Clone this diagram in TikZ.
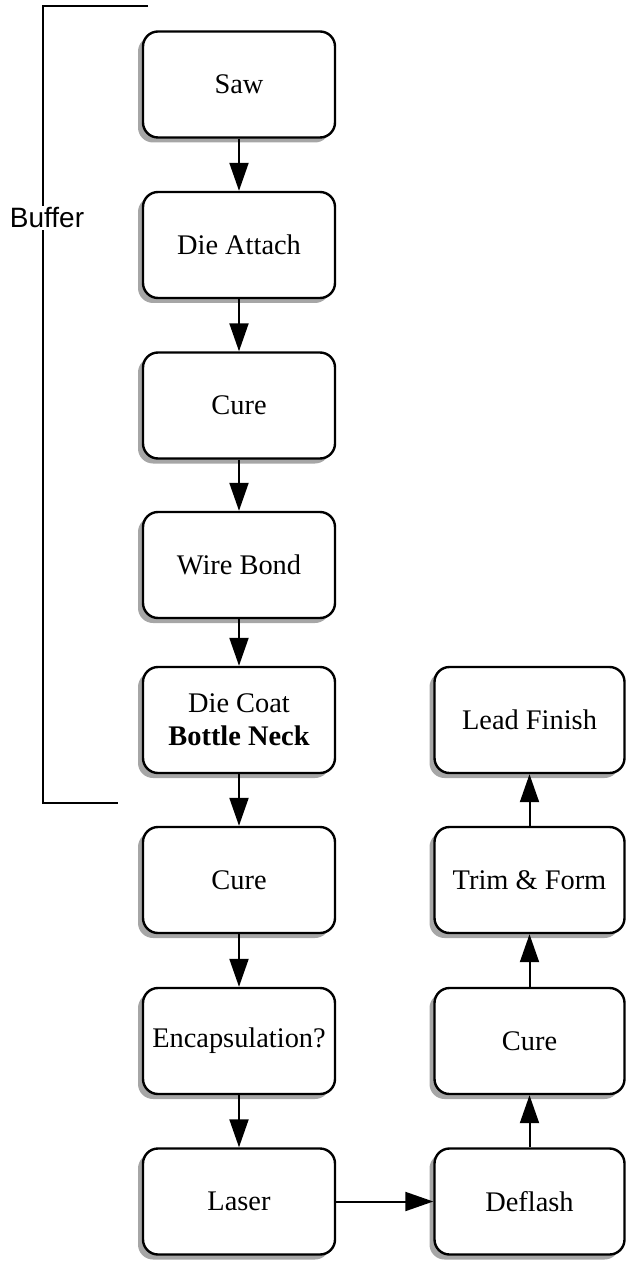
\documentclass[tikz,border=0pt]{standalone}
\usepackage{fontspec}
\setmainfont{Liberation Serif}
\newfontfamily\labelfont{Liberation Sans}
\usetikzlibrary{arrows.meta}
\usetikzlibrary{shadows}

\begin{document}
\begin{tikzpicture}[x=0.5pt,y=-0.5pt,
  font=\fontsize{14.2}{16.5}\selectfont,
  stepn/.style={draw=black, line width=1.2pt, rounded corners=7.5pt, fill=white,
    minimum width=96pt, minimum height=53pt, align=center,
    drop shadow={shadow xshift=-2.5pt, shadow yshift=-2.5pt, fill=gray!70, opacity=1}},
  flow/.style={line width=1pt, -{Triangle[length=14pt,width=9.5pt]}},
  bracketn/.style={line width=0.7pt}]
  \useasboundingbox (0,0) rectangle (627,1261);
  \node[stepn] (saw) at (239,84.5) {Saw};
  \node[stepn] (attach) at (239,245) {Die Attach};
  \node[stepn] (cure1) at (239,405.5) {Cure};
  \node[stepn] (bond) at (239,565) {Wire Bond};
  \node[stepn] (coat) at (239,720) {Die Coat\\ \textbf{Bottle Neck}};
  \node[stepn] (cure2) at (239,880) {Cure};
  \node[stepn] (encap) at (239,1041) {Encapsulation?};
  \node[stepn] (laser) at (239,1201.5) {Laser};
  \node[stepn, minimum width=95pt] (deflash) at (529.5,1201.5) {Deflash};
  \node[stepn, minimum width=95pt] (cure3) at (529.5,1041) {Cure};
  \node[stepn, minimum width=95pt] (trim) at (529.5,880) {Trim \& Form};
  \node[stepn, minimum width=95pt] (lead) at (529.5,720) {Lead Finish};
  \draw[flow] (saw) -- (attach);
  \draw[flow] (attach) -- (cure1);
  \draw[flow] (cure1) -- (bond);
  \draw[flow] (bond) -- (coat);
  \draw[flow] (coat) -- (cure2);
  \draw[flow] (cure2) -- (encap);
  \draw[flow] (encap) -- (laser);
  \draw[flow] (laser) -- (deflash);
  \draw[flow] (deflash) -- (cure3);
  \draw[flow] (cure3) -- (trim);
  \draw[flow] (trim) -- (lead);
  \coordinate (btop) at (148,6);
  \coordinate (bbot) at (118,803);
  \draw[bracketn] (btop) -- (43,6) -- (43,803) -- (bbot);
  \node[fill=white, inner sep=1pt, font=\labelfont\fontsize{14}{16}\selectfont] (buffer) at (47,218) {Buffer};
\end{tikzpicture}
\end{document}
